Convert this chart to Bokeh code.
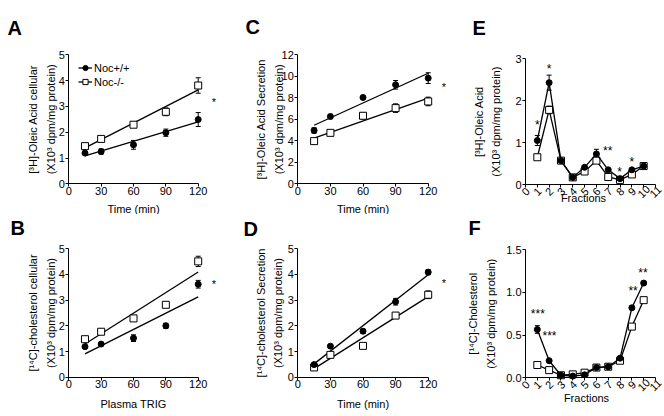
import numpy as np
from math import pi
from bokeh.plotting import figure
from bokeh.layouts import column, row
from bokeh.models import (ColumnDataSource, Whisker, TeeHead, FixedTicker,
                          Legend, LegendItem, NumeralTickFormatter, Range1d)
from bokeh.core.properties import value
from bokeh.embed import file_html
from bokeh.resources import INLINE

FONT = "Liberation Sans"

# ---------------- data ----------------
time_min = [15, 30, 60, 90, 120]
fractions = [1, 2, 3, 4, 5, 6, 7, 8, 9, 10]

a_wt = [1.19, 1.25, 1.51, 1.98, 2.49]
a_wt_err = [0.05, 0.10, 0.17, 0.14, 0.27]
a_ko = [1.46, 1.74, 2.29, 2.79, 3.81]
a_ko_err = [0.07, 0.05, 0.10, 0.15, 0.30]

b_wt = [1.19, 1.29, 1.52, 2.00, 3.62]
b_wt_err = [0.05, 0.06, 0.13, 0.10, 0.15]
b_ko = [1.48, 1.77, 2.29, 2.82, 4.51]
b_ko_err = [0.10, 0.08, 0.10, 0.10, 0.20]

c_wt = [4.96, 6.26, 8.03, 9.21, 9.83]
c_wt_err = [0.25, 0.20, 0.10, 0.40, 0.50]
c_ko = [3.97, 4.74, 6.33, 7.04, 7.66]
c_ko_err = [0.15, 0.15, 0.30, 0.40, 0.40]

d_wt = [0.49, 1.21, 1.79, 2.94, 4.09]
d_wt_err = [0.04, 0.04, 0.08, 0.13, 0.10]
d_ko = [0.38, 0.87, 1.22, 2.40, 3.21]
d_ko_err = [0.04, 0.04, 0.04, 0.10, 0.15]

e_wt = [1.05, 2.43, 0.57, 0.17, 0.41, 0.73, 0.35, 0.14, 0.35, 0.44]
e_wt_err = [0.12, 0.18, 0.02, 0.02, 0.03, 0.11, 0.02, 0.02, 0.03, 0.02]
e_ko = [0.65, 1.78, 0.57, 0.17, 0.31, 0.57, 0.18, 0.11, 0.24, 0.44]
e_ko_err = [0.02, 0.09, 0.02, 0.02, 0.02, 0.03, 0.02, 0.02, 0.02, 0.02]

f_wt = [0.566, 0.20, 0.03, 0.02, 0.035, 0.12, 0.13, 0.23, 0.82, 1.11]
f_wt_err = [0.045, 0.01, 0.005, 0.005, 0.005, 0.01, 0.01, 0.01, 0.02, 0.02]
f_ko = [0.15, 0.09, 0.03, 0.04, 0.06, 0.12, 0.13, 0.20, 0.60, 0.91]
f_ko_err = [0.01, 0.01, 0.005, 0.005, 0.005, 0.01, 0.01, 0.01, 0.02, 0.02]

series_names = ["Noc+/+", "Noc-/-"]
time_ticks = [0, 30, 60, 90, 120]
fraction_ticks = list(range(0, 12))
fraction_tick_labels = [str(t) for t in fraction_ticks]

# significance marks (x, y, text)
a_sig = ([134.5], [3.27], ["*"])
b_sig = ([134.5], [3.73], ["*"])
c_sig = ([134.5], [9.27], ["*"])
d_sig = ([134.5], [3.80], ["*"])
e_sig = ([1.0, 2.0, 6.96, 7.97, 9.0], [1.50, 2.82, 0.87, 0.37, 0.62], ["*", "*", "**", "*", "*"])
f_sig = ([1.04, 2.03, 9.1, 9.94], [0.78, 0.52, 1.05, 1.26], ["***", "***", "**", "**"])

Y2 = "(X10\u00b3 dpm/mg protein)"


def style_axis(ax):
    ax.major_label_text_font = FONT
    ax.major_label_text_font_size = "11px"
    ax.major_label_text_color = "black"
    ax.axis_line_color = "black"
    ax.axis_line_width = 1
    ax.major_tick_line_color = "black"
    ax.major_tick_line_width = 1
    ax.major_tick_in = 0
    ax.major_tick_out = 3
    ax.minor_tick_line_color = None


class Panel:
    """Pixel geometry of one panel (page pixels), frame == whole canvas."""

    def __init__(self, left, top, w, h, xpx, xval, ypx, yval):
        self.left, self.top, self.w, self.h = left, top, w, h
        self.sx = (xpx[1] - xpx[0]) / (xval[1] - xval[0])
        self.x0 = xval[0] - (xpx[0] - left) / self.sx
        self.sy = (ypx[0] - ypx[1]) / (yval[1] - yval[0])
        self.y1 = yval[1] + (ypx[1] - top) / self.sy
        self.y0 = self.y1 - h / self.sy
        self.ymid = (ypx[0] + ypx[1]) / 2

    def dx(self, px):
        return self.x0 + (px - self.left) / self.sx

    def dy(self, py):
        return self.y1 - (py - self.top) / self.sy


def txt(p, g, px, py, s, size="11px", angle=0.0, style="normal", align="center",
        baseline="middle"):
    p.text(x=[g.dx(px)], y=[g.dy(py)], text=[s], angle=angle, text_font=value(FONT),
           text_font_size=size, text_font_style=style, text_color="black",
           text_align=align, text_baseline=baseline)


def make_fig(g, xb, yb, xt, yt, xlabel, xlab_pos, ylabel1, ylabel2, ylab_x):
    p = figure(width=g.w, height=g.h, x_range=Range1d(g.x0, g.x0 + g.w / g.sx),
               y_range=Range1d(g.y0, g.y1), output_backend="svg",
               toolbar_location=None, min_border=0)
    p.min_border_left = p.min_border_right = p.min_border_top = p.min_border_bottom = 0
    p.outline_line_color = None
    p.grid.visible = False
    p.xaxis.fixed_location = 0
    p.yaxis.fixed_location = 0
    p.xaxis.bounds = xb
    p.yaxis.bounds = yb
    p.xaxis.ticker = FixedTicker(ticks=xt)
    p.yaxis.ticker = FixedTicker(ticks=yt)
    style_axis(p.xaxis[0])
    style_axis(p.yaxis[0])
    p.xaxis.major_label_standoff = 0
    p.yaxis.major_label_standoff = 1
    # axis titles
    txt(p, g, xlab_pos[0], xlab_pos[1], xlabel)
    txt(p, g, ylab_x[0], g.ymid, ylabel1, angle=pi / 2)
    txt(p, g, ylab_x[1], g.ymid, ylabel2, angle=pi / 2)
    return p


def draw_series(p, x, y, err, marker, fill, size, connect):
    src = ColumnDataSource(dict(x=x, y=y,
                                lo=[a - b for a, b in zip(y, err)],
                                hi=[a + b for a, b in zip(y, err)]))
    p.add_layout(Whisker(source=src, base="x", upper="hi", lower="lo",
                         line_color="black", line_width=1, level="underlay",
                         upper_head=TeeHead(size=5, line_color="black", line_width=1),
                         lower_head=TeeHead(size=5, line_color="black", line_width=1)))
    ln = None
    if connect:
        ln = p.line("x", "y", source=src, line_color="black", line_width=1.3)
    sc = p.scatter("x", "y", source=src, marker=marker, size=size,
                   fill_color=fill, line_color="black", line_width=1)
    return ln, sc


def fit_line(p, x, y):
    k, b = np.polyfit(x, y, 1)
    xs = [min(x), max(x)]
    return p.line(xs, [k * v + b for v in xs], line_color="black", line_width=1.3)


def add_sig(p, sig, size):
    xs, ys, ts = sig
    p.text(x=xs, y=ys, text=ts, text_font=value(FONT), text_font_size=size,
           text_align="center", text_baseline="middle", y_offset=3, text_color="black")


def add_letter(p, g, letter, px, py):
    txt(p, g, px, py, letter, size="20px", style="bold", align="left",
        baseline="alphabetic")


def regression_panel(p, x, wt, wt_err, ko, ko_err, sig, legend_at=None):
    l_ko = fit_line(p, x, ko)
    l_wt = fit_line(p, x, wt)
    _, s_ko = draw_series(p, x, ko, ko_err, "square", "white", 7, False)
    _, s_wt = draw_series(p, x, wt, wt_err, "circle", "black", 6, False)
    add_sig(p, sig, "11px")
    if legend_at is not None:
        lg = Legend(items=[LegendItem(label=series_names[0], renderers=[l_wt, s_wt]),
                           LegendItem(label=series_names[1], renderers=[l_ko, s_ko])],
                    location=legend_at, padding=0, margin=0, spacing=1,
                    glyph_width=14, glyph_height=13, label_height=13,
                    label_standoff=2, border_line_color=None,
                    background_fill_alpha=0, label_text_font=FONT,
                    label_text_font_size="11px", label_text_color="black")
        p.add_layout(lg)


def fraction_panel(p, wt, wt_err, ko, ko_err, sig):
    draw_series(p, fractions, ko, ko_err, "square", "white", 7, True)
    draw_series(p, fractions, wt, wt_err, "circle", "black", 6, True)
    add_sig(p, sig, "12px")
    # rotated tick labels centred under each tick
    p.xaxis.major_label_text_color = None
    p.text(x=fraction_ticks, y=[0] * len(fraction_ticks), text=fraction_tick_labels,
           angle=pi / 4, text_font=value(FONT), text_font_size="11px",
           text_align="center", text_baseline="middle", x_offset=0, y_offset=7,
           text_color="black")


# ---------------- geometry (page pixels; layout starts at the page corner) ----------------
gA = Panel(0, 0, 228, 214, (68.3, 197.7), (0, 120), (183.3, 54.3), (0, 5))
gB = Panel(0, 214, 228, 201, (68.3, 197.7), (0, 120), (376.7, 248.3), (0, 5))
gC = Panel(228, 0, 222, 214, (297.3, 427.7), (0, 120), (183.3, 54.3), (0, 12))
gD = Panel(228, 214, 222, 201, (297.3, 427.7), (0, 120), (376.7, 248.3), (0, 5))
gE = Panel(450, 0, 214, 214, (525, 655), (0, 11), (184, 58.3), (0, 3))
gF = Panel(450, 214, 214, 201, (525, 655), (0, 11), (377.3, 249.3), (0, 1.5))

# ---------------- panel A ----------------
pA = make_fig(gA, (0, 120), (0, 5), time_ticks, [0, 1, 2, 3, 4, 5],
              "Time (min)", (133, 208.5),
              "[\u00b3H]-Oleic Acid cellular", Y2, (32.3, 50))
regression_panel(pA, time_min, a_wt, a_wt_err, a_ko, a_ko_err, a_sig,
                 legend_at=(78, 126))
add_letter(pA, gA, "A", 7, 27)

# ---------------- panel B ----------------
pB = make_fig(gB, (0, 120), (0, 5), time_ticks, [0, 1, 2, 3, 4, 5],
              "Plasma TRIG", (133, 403),
              "[\u00b9\u2074C]-cholesterol cellular", Y2, (32.3, 50))
regression_panel(pB, time_min, b_wt, b_wt_err, b_ko, b_ko_err, b_sig)
add_letter(pB, gB, "B", 10, 227)

# ---------------- panel C ----------------
pC = make_fig(gC, (0, 120), (0, 12), time_ticks, [0, 2, 4, 6, 8, 10, 12],
              "Time (min)", (362.5, 208.5),
              "[\u00b3H]-Oleic Acid Secretion", Y2, (260, 278.3))
regression_panel(pC, time_min, c_wt, c_wt_err, c_ko, c_ko_err, c_sig)
add_letter(pC, gC, "C", 245, 26)

# ---------------- panel D ----------------
pD = make_fig(gD, (0, 120), (0, 5), time_ticks, [0, 1, 2, 3, 4, 5],
              "Time (min)", (362.5, 403.3),
              "[\u00b9\u2074C]-cholesterol Secretion", Y2, (260, 277.5))
regression_panel(pD, time_min, d_wt, d_wt_err, d_ko, d_ko_err, d_sig)
add_letter(pD, gD, "D", 243, 228)

# ---------------- panel E ----------------
pE = make_fig(gE, (0, 11), (0, 3), fraction_ticks, [0, 1, 2, 3],
              "Fractions", (583, 197),
              "[\u00b3H]-Oleic Acid", Y2, (478.3, 495))
fraction_panel(pE, e_wt, e_wt_err, e_ko, e_ko_err, e_sig)
add_letter(pE, gE, "E", 472, 27)

# ---------------- panel F ----------------
pF = make_fig(gF, (0, 11), (0, 1.5), fraction_ticks, [0, 0.5, 1.0, 1.5],
              "Fractions", (586, 397.5),
              "[\u00b9\u2074C]-Cholesterol", Y2, (472.7, 490))
pF.yaxis.formatter = NumeralTickFormatter(format="0.0")
fraction_panel(pF, f_wt, f_wt_err, f_ko, f_ko_err, f_sig)
add_letter(pF, gF, "F", 468, 227)

layout = column(row(pA, pC, pE), row(pB, pD, pF))

open("out.html", "w").write(file_html(layout, INLINE))
